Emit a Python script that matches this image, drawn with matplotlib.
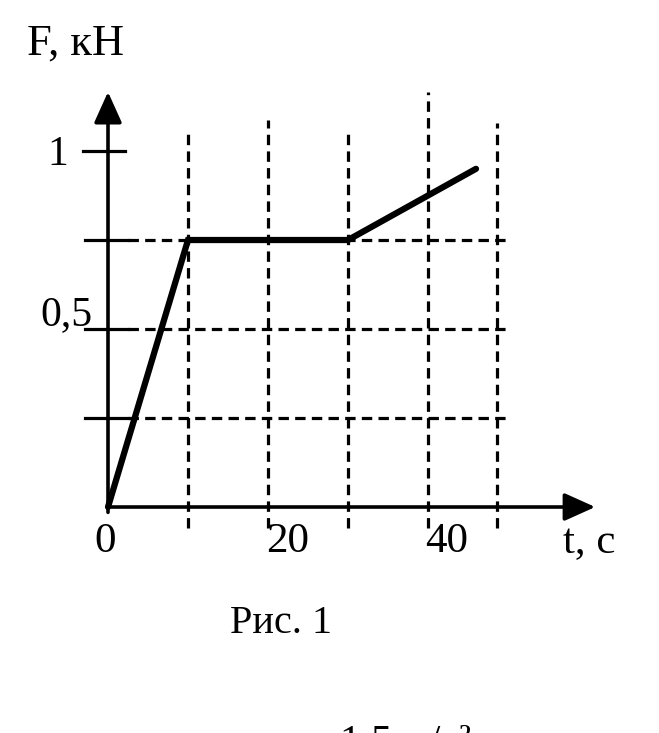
import matplotlib
matplotlib.use('Agg')
import matplotlib.pyplot as plt

# данные графика F(t)
t_points = [0, 10, 30, 46]
F_points = [0, 0.75, 0.75, 0.95]

# пунктирная сетка
grid_t = [10, 20, 30, 40, 48.6]
grid_t_top = [1.05, 1.087, 1.059, 1.166, 1.08]
grid_F = [0.25, 0.5, 0.75]

# подписи
x_labels = ['0', '20', '40']
x_label_pos = [-0.4, 22.5, 42.3]
y_labels = ['1', '0,5']
y_label_pos = [1.0, 0.5]

plt.rcParams['font.family'] = ['Liberation Serif', 'DejaVu Serif']
plt.rcParams['lines.scale_dashes'] = False

fig = plt.figure(figsize=(6.59, 7.33), dpi=100)
ax = fig.add_axes([0, 0, 1, 1])
ax.set_xlim(-13.5, 68.875)
ax.set_ylim(-0.6348, 1.4242)
ax.axis('off')

dash = (0, (7.5, 4.5))
lw_grid = 2.3

# вертикальные пунктирные линии
for t, top in zip(grid_t, grid_t_top):
    ax.plot([t, t], [-0.06, top], color='black', lw=lw_grid, linestyle=dash)

# горизонтальные пунктирные линии и засечки
for F in grid_F:
    ax.plot([-2.9, 2.5], [F, F], color='black', lw=lw_grid)
    ax.plot([2.5, 49.9], [F, F], color='black', lw=lw_grid, linestyle=dash)
ax.plot([-3.1, 2.1], [1.0, 1.0], color='black', lw=lw_grid)

# оси со стрелками
arrow = dict(arrowstyle='-|>,head_length=1,head_width=0.45', mutation_scale=19,
             lw=2.6, color='black', shrinkA=0, shrinkB=0)
ax.annotate('', xy=(0, 1.166), xytext=(0, -0.015), arrowprops=arrow)
ax.annotate('', xy=(60.9, 0), xytext=(0, 0), arrowprops=arrow)

# график
ax.plot(t_points, F_points, color='black', lw=4.5, solid_capstyle='round',
        solid_joinstyle='miter')

# подписи осей
ax.text(-10.1, 1.2697, 'F, кН', fontsize=32, ha='left', va='baseline')
ax.text(56.9, -0.13, 't, c', fontsize=31, ha='left', va='baseline')

for lab, pos in zip(y_labels, y_label_pos):
    ax.text(-2.0 if lab != '1' else -5.0, pos + (0.012 if lab != '1' else -0.04),
            lab, fontsize=30, ha='right', va='baseline')

for lab, pos in zip(x_labels, x_label_pos):
    ax.text(pos, -0.126, lab, fontsize=31, ha='center', va='baseline')

ax.text(15.25, -0.354, 'Рис. 1', fontsize=29, ha='left', va='baseline')

# обрезанная строка внизу (в оригинале видна только верхняя часть)
ax.text(29.0, -0.692, '1,5 м/с²', fontsize=30, ha='left', va='baseline')

fig.savefig('out.png', dpi=100)
